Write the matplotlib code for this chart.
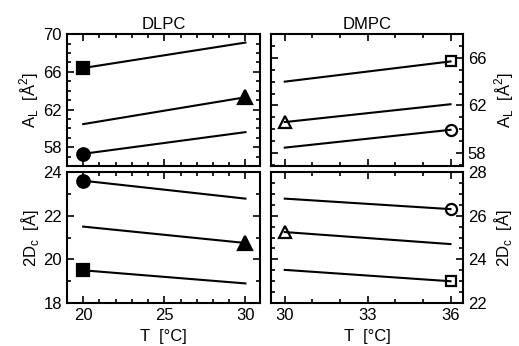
import matplotlib
matplotlib.use("Agg")
import matplotlib.pyplot as plt
from matplotlib.ticker import MultipleLocator

plt.rcParams['font.family'] = ['Liberation Sans', 'DejaVu Sans']
plt.rcParams['font.size'] = 12

# DLPC, T in degC
t_dlpc = [20, 30]
al_dlpc_sq = [66.4, 69.1]
al_dlpc_tri = [60.45, 63.3]
al_dlpc_circ = [57.3, 59.6]
dc_dlpc_circ = [23.6, 22.78]
dc_dlpc_tri = [21.5, 20.75]
dc_dlpc_sq = [19.5, 18.9]

# DMPC
t_dmpc = [30, 36]
al_dmpc_sq = [64.0, 65.7]
al_dmpc_tri = [60.6, 62.1]
al_dmpc_circ = [58.45, 59.95]
dc_dmpc_circ = [26.78, 26.3]
dc_dmpc_tri = [25.25, 24.7]
dc_dmpc_sq = [23.52, 23.0]

fig = plt.figure(figsize=(5.19, 3.46), dpi=100)
ax_tl = fig.add_axes([0.129, 0.520, 0.372, 0.3815])
ax_bl = fig.add_axes([0.129, 0.124, 0.372, 0.379])
ax_tr = fig.add_axes([0.522, 0.520, 0.370, 0.3815])
ax_br = fig.add_axes([0.522, 0.124, 0.370, 0.379])


def style(ax):
    for s in ax.spines.values():
        s.set_linewidth(1.5)
    ax.tick_params(which='both', direction='in', top=True, right=True,
                   left=True, bottom=True, width=1.2, labelsize=12)
    ax.tick_params(which='major', length=5)
    ax.tick_params(which='minor', length=3)


def series(ax, t, y, marker, idx, filled):
    ax.plot(t, y, '-', color='black', lw=1.5)
    fc = 'black' if filled else 'none'
    ms = {'s': 8, '^': 10, 'o': 9}[marker] if filled else {'s': 7, '^': 9, 'o': 8}[marker]
    ax.plot([t[idx]], [y[idx]], marker=marker, ms=ms, mfc=fc, mec='black',
            mew=1.6, ls='none', clip_on=False)


# DLPC top
series(ax_tl, t_dlpc, al_dlpc_sq, 's', 0, True)
series(ax_tl, t_dlpc, al_dlpc_tri, '^', 1, True)
series(ax_tl, t_dlpc, al_dlpc_circ, 'o', 0, True)
# DLPC bottom
series(ax_bl, t_dlpc, dc_dlpc_circ, 'o', 0, True)
series(ax_bl, t_dlpc, dc_dlpc_tri, '^', 1, True)
series(ax_bl, t_dlpc, dc_dlpc_sq, 's', 0, True)
# DMPC top
series(ax_tr, t_dmpc, al_dmpc_sq, 's', 1, False)
series(ax_tr, t_dmpc, al_dmpc_tri, '^', 0, False)
series(ax_tr, t_dmpc, al_dmpc_circ, 'o', 1, False)
# DMPC bottom
series(ax_br, t_dmpc, dc_dmpc_circ, 'o', 1, False)
series(ax_br, t_dmpc, dc_dmpc_tri, '^', 0, False)
series(ax_br, t_dmpc, dc_dmpc_sq, 's', 1, False)

for ax in (ax_tl, ax_bl):
    ax.set_xlim(19, 30.9)
    ax.xaxis.set_major_locator(MultipleLocator(5))
    ax.xaxis.set_minor_locator(MultipleLocator(1))
for ax in (ax_tr, ax_br):
    ax.set_xlim(29.5, 36.45)
    ax.xaxis.set_major_locator(MultipleLocator(3))
    ax.xaxis.set_minor_locator(MultipleLocator(1))

ax_tl.set_ylim(56, 70)
ax_tl.set_yticks([58, 62, 66, 70])
ax_tl.yaxis.set_minor_locator(MultipleLocator(1))

ax_bl.set_ylim(18, 24)
ax_bl.yaxis.set_major_locator(MultipleLocator(2))
ax_bl.yaxis.set_minor_locator(MultipleLocator(1))

ax_tr.set_ylim(56.9, 68)
ax_tr.set_yticks([58, 62, 66])
ax_tr.yaxis.set_minor_locator(MultipleLocator(1))

ax_br.set_ylim(22, 28)
ax_br.yaxis.set_major_locator(MultipleLocator(2))
ax_br.yaxis.set_minor_locator(MultipleLocator(0.5))

for ax in (ax_tl, ax_bl, ax_tr, ax_br):
    style(ax)

for ax in (ax_tl, ax_tr):
    ax.tick_params(labelbottom=False)
for ax in (ax_tr, ax_br):
    ax.tick_params(labelleft=False, labelright=True)
    ax.yaxis.set_label_position('right')

ax_tl.set_title('DLPC', fontsize=12, pad=4)
ax_tr.set_title('DMPC', fontsize=12, pad=4)
ax_tl.set_ylabel(r'A$_\mathregular{L}$  [Å$^\mathregular{2}$]', labelpad=2)
ax_tr.set_ylabel(r'A$_\mathregular{L}$  [Å$^\mathregular{2}$]', labelpad=4)
ax_bl.set_ylabel(r'2D$_\mathregular{c}$  [Å]', labelpad=2)
ax_br.set_ylabel(r'2D$_\mathregular{c}$  [Å]', labelpad=4)
for ax in (ax_tr, ax_br):
    ax.yaxis.label.set_rotation(90)
ax_bl.set_xlabel('T  [°C]', labelpad=4)
ax_br.set_xlabel('T  [°C]', labelpad=4)

fig.savefig('out.png', dpi=100)
